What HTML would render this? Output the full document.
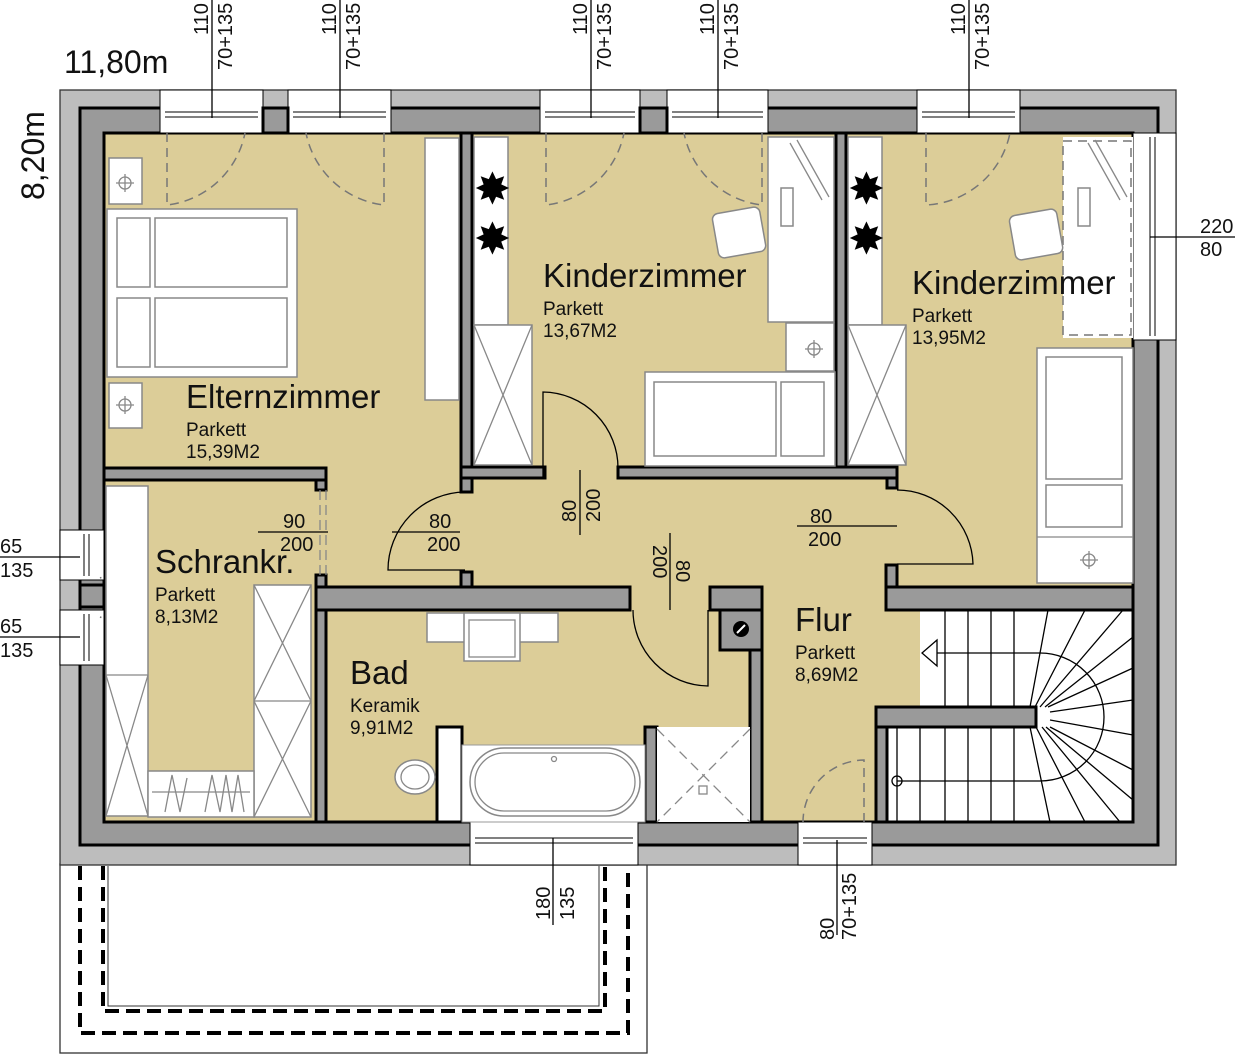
<!DOCTYPE html>
<html><head><meta charset="utf-8"><style>
html,body{margin:0;padding:0;background:#fff;}
svg{display:block;}
text{font-family:"Liberation Sans",sans-serif;fill:#111;}
.w{fill:#9a9a9a;stroke:#000;stroke-width:3;}
.f{fill:#fff;stroke:#888;stroke-width:1.5;}
.d{fill:none;stroke:#777;stroke-width:1.5;stroke-dasharray:9 6;}
.t{fill:none;stroke:#000;stroke-width:1.3;}
.g{fill:none;stroke:#888;stroke-width:1.3;}
.dim{font-size:20px;}
.h{font-size:33px;}
.s{font-size:19px;}
</style></head><body>
<svg width="1235" height="1055" viewBox="0 0 1235 1055" xmlns="http://www.w3.org/2000/svg">
<!-- balcony -->
<rect x="60" y="864" width="587" height="189" fill="#fff" stroke="#333" stroke-width="1.3"/>
<path d="M80 866 V1033 H628 V866" fill="none" stroke="#000" stroke-width="4" stroke-dasharray="14 7"/>
<path d="M103 866 V1011 H605 V866" fill="none" stroke="#000" stroke-width="4" stroke-dasharray="14 7"/>
<path d="M108 866 V1006 H599 V866" fill="none" stroke="#333" stroke-width="1"/>
<!-- band -->
<rect x="60" y="90" width="1116" height="775" fill="#bdbdbd" stroke="#333" stroke-width="1.3"/>
<!-- floor -->
<rect x="104" y="133" width="1029" height="689" fill="#dccd98"/>
<!-- stair white -->
<rect x="920" y="610" width="213" height="212" fill="#fff"/>
<rect x="887" y="727" width="40" height="95" fill="#fff"/>
<!-- outer wall ring -->
<path class="w" fill-rule="evenodd" d="M80 108 H1158 V845 H80 Z M104 133 V822 H1133 V133 Z"/>
<!-- windows -->
<g fill="#fff" stroke="#000" stroke-width="1">
<rect x="160" y="90" width="103" height="43"/><rect x="288" y="90" width="103" height="43"/>
<rect x="540" y="90" width="100" height="43"/><rect x="667" y="90" width="101" height="43"/>
<rect x="917" y="90" width="103" height="43"/>
<rect x="470" y="822" width="168" height="43"/><rect x="798" y="822" width="74" height="43"/>
<rect x="60" y="530" width="44" height="50"/><rect x="60" y="610" width="44" height="55"/>
<rect x="1133" y="133" width="43" height="207"/>
</g>
<g stroke="#000" stroke-width="1">
<path d="M165 112H258M165 117H258M293 112H386M293 117H386M545 112H635M545 117H635M672 112H763M672 117H763M922 112H1015M922 117H1015"/>
<path d="M475 843H633M475 838H633M803 838H867M803 843H867"/>
<path d="M84 534V576M89 534V576M84 614V661M89 614V661M1150 137V336M1155 137V336"/>
</g>
<rect class="w" x="263" y="108" width="25" height="25"/><rect class="w" x="640" y="108" width="27" height="25"/>
<rect class="w" x="80" y="585" width="24" height="22"/>
<!-- interior walls -->
<rect class="w" x="461" y="133" width="11" height="345"/>
<rect class="w" x="461" y="467" width="84" height="11"/>
<rect class="w" x="461" y="478" width="11" height="14"/>
<rect class="w" x="461" y="572" width="11" height="15"/>
<rect class="w" x="618" y="467" width="279" height="11"/>
<rect class="w" x="887" y="478" width="10" height="10"/>
<rect class="w" x="836" y="133" width="10" height="334"/>
<rect class="w" x="104" y="468" width="222" height="12"/>
<rect class="w" x="316" y="480" width="10" height="10"/>
<rect class="w" x="316" y="575" width="10" height="247"/>
<rect class="w" x="316" y="587" width="314" height="23"/>
<rect class="w" x="710" y="587" width="52" height="23"/>
<rect class="w" x="720" y="610" width="42" height="40"/>
<circle cx="741" cy="629" r="8" fill="#000"/><path d="M737 633L745 625" stroke="#fff" stroke-width="2"/>
<rect class="w" x="750" y="650" width="12" height="172"/>
<rect class="w" x="886" y="587" width="247" height="23"/>
<rect class="w" x="886" y="565" width="11" height="22"/>
<rect class="w" x="876" y="707" width="160" height="20"/>
<rect class="w" x="876" y="727" width="11" height="95"/>
<rect class="w" x="645" y="727" width="12" height="95"/>
<rect x="437" y="727" width="25" height="95" fill="#fff" stroke="#000" stroke-width="3"/>
<!-- door swings / openings -->
<path class="t" d="M465 492 A78 78 0 0 0 388 570 H465"/>
<path class="t" d="M543 478 V392 A76 76 0 0 1 618 468"/>
<path class="t" d="M897 490 A76 76 0 0 1 973 564 H897"/>
<path class="t" d="M708 610 V686 A76 76 0 0 1 633 610"/>
<path class="g" d="M320 490 V575 M326 490 V575" stroke-dasharray="10 5"/>
<path class="d" d="M167 133 V205 A90 90 0 0 0 245 133 M384 133 V205 A90 90 0 0 1 306 133"/>
<path class="d" d="M546 133 V205 A90 90 0 0 0 624 133 M762 133 V205 A90 90 0 0 1 684 133"/>
<path class="d" d="M926 133 V205 A90 90 0 0 0 1010 133"/>
<path class="d" d="M864 822 V760 A62 62 0 0 0 803 822"/>
<path class="d" d="M106 535 H128 A45 45 0 0 1 100 578 M106 660 H128 A45 45 0 0 0 100 617"/>
<!-- Eltern furniture -->
<rect class="f" x="109" y="158" width="33" height="46"/><rect class="f" x="109" y="383" width="33" height="45"/>
<g class="g"><circle cx="125" cy="183" r="6"/><path d="M116 183H134M125 174V192"/><circle cx="125" cy="405" r="6"/><path d="M116 405H134M125 396V414"/></g>
<rect class="f" x="107" y="209" width="190" height="168"/>
<rect class="f" x="117" y="218" width="33" height="69"/><rect class="f" x="117" y="298" width="33" height="69"/>
<rect class="f" x="155" y="218" width="132" height="69"/><rect class="f" x="155" y="298" width="132" height="69"/>
<rect class="f" x="425" y="138" width="34" height="262"/>
<!-- Schrankraum -->
<rect class="f" x="106" y="486" width="42" height="330"/>
<path class="g" d="M106 675H148M106 675L148 816M148 675L106 816"/>
<rect class="f" x="254" y="585" width="57" height="232"/>
<path class="g" d="M254 701H311M254 585L311 701M311 585L254 701M254 701L311 817M311 701L254 817"/>
<rect class="f" x="148" y="771" width="106" height="46"/>
<path class="g" d="M152 792H250M165 812L172 775L180 812L187 778M205 812L212 775L220 812L226 775L232 812L238 775L244 812"/>
<!-- Kinder1 -->
<rect class="f" x="474" y="137" width="34" height="188"/>
<rect class="f" x="474" y="325" width="58" height="140"/>
<path class="g" d="M474 325L532 465M532 325L474 465"/>
<text x="474" y="204" font-size="44" style="fill:#000">✸</text><text x="474" y="254" font-size="44" style="fill:#000">✸</text>
<rect class="f" x="768" y="137" width="66" height="185"/>
<rect class="f" x="781" y="188" width="12" height="38"/>
<path class="g" d="M790 143L822 200M797 140L829 197"/>
<rect class="f" x="715" y="210" width="48" height="45" rx="6" transform="rotate(-10 739 232)"/>
<rect class="f" x="786" y="323" width="48" height="48"/>
<g class="g"><circle cx="814" cy="349" r="6"/><path d="M805 349H823M814 340V358"/></g>
<rect class="f" x="645" y="372" width="190" height="94"/>
<rect class="f" x="654" y="382" width="122" height="74"/><rect class="f" x="781" y="382" width="43" height="74"/>
<!-- Kinder2 -->
<rect class="f" x="848" y="137" width="34" height="188"/>
<rect class="f" x="848" y="325" width="58" height="140"/>
<path class="g" d="M848 325L906 465M906 325L848 465"/>
<text x="848" y="204" font-size="44" style="fill:#000">✸</text><text x="848" y="254" font-size="44" style="fill:#000">✸</text>
<rect x="1063" y="137" width="70" height="201" fill="#fff"/>
<rect class="d" x="1063" y="141" width="68" height="194"/>
<rect class="f" x="1078" y="188" width="12" height="38"/>
<path class="g" d="M1088 143L1120 200M1095 140L1127 197"/>
<rect class="f" x="1012" y="212" width="48" height="45" rx="6" transform="rotate(-10 1036 234)"/>
<rect class="f" x="1037" y="348" width="96" height="235"/>
<rect class="f" x="1046" y="357" width="76" height="122"/><rect class="f" x="1046" y="485" width="76" height="42"/>
<path class="g" d="M1037 537H1133"/>
<g class="g"><circle cx="1089" cy="560" r="6"/><path d="M1080 560H1098M1089 551V569"/></g>
<!-- Bad -->
<rect class="f" x="427" y="613" width="131" height="29"/>
<rect class="f" x="464" y="613" width="56" height="48"/><rect class="g" x="469" y="620" width="46" height="37"/>
<ellipse cx="415" cy="777" rx="20" ry="17" class="f"/><ellipse cx="415" cy="777" rx="14" ry="12" class="g"/>
<rect x="462" y="745" width="183" height="77" fill="#fff" stroke="#999" stroke-width="1"/>
<rect class="f" x="470" y="748" width="170" height="68" rx="34"/>
<rect class="g" x="475" y="753" width="160" height="58" rx="29"/>
<circle cx="554" cy="759" r="2.5" class="g"/>
<rect x="657" y="727" width="93" height="95" fill="#fff"/>
<path class="g" d="M657 729L750 822M750 729L657 822" stroke-dasharray="10 6"/>
<rect class="g" x="699" y="786" width="8" height="8"/>
<!-- stairs -->
<g stroke="#000" stroke-width="1.3" fill="none">
<path d="M945 610V707M968 610V707M991 610V707M1014 610V707"/>
<path d="M897 727V822M920 727V822M945 727V822M968 727V822M991 727V822M1014 727V822"/>
<path d="M1030 707L1048 610M1035 707L1085 610M1040 707L1123 610M1045 707L1133 637M1048 707L1133 668M1050 712L1133 700M1050 720L1133 735M1050 727L1133 770M1046 727L1133 800M1042 727L1120 822M1036 727L1085 822M1030 727L1050 822"/>
<path d="M935 653H1040 A64 64 0 0 1 1040 781H897"/>
<circle cx="897" cy="781" r="5"/>
<path d="M937 640L922 653L937 666Z" fill="#fff"/>
</g>
<!-- labels -->
<text x="186" y="408" class="h">Elternzimmer</text>
<text x="186" y="436" class="s">Parkett</text><text x="186" y="458" class="s">15,39M2</text>
<text x="543" y="287" class="h">Kinderzimmer</text>
<text x="543" y="315" class="s">Parkett</text><text x="543" y="337" class="s">13,67M2</text>
<text x="912" y="294" class="h">Kinderzimmer</text>
<text x="912" y="322" class="s">Parkett</text><text x="912" y="344" class="s">13,95M2</text>
<text x="155" y="573" class="h">Schrankr.</text>
<text x="155" y="601" class="s">Parkett</text><text x="155" y="623" class="s">8,13M2</text>
<text x="350" y="684" class="h">Bad</text>
<text x="350" y="712" class="s">Keramik</text><text x="350" y="734" class="s">9,91M2</text>
<text x="795" y="631" class="h">Flur</text>
<text x="795" y="659" class="s">Parkett</text><text x="795" y="681" class="s">8,69M2</text>
<!-- dimensions -->
<g stroke="#000" stroke-width="1.3">
<path d="M258 532H328M392 532H460M797 526H897M580 470V535M670 533V610M1150 237H1235M0 557H80M0 637H80M553 838V925M837 840V935"/>
<path d="M212 0V118M340 0V118M591 0V118M718 0V118M969 0V118"/>
</g>
<text class="dim" x="283" y="528">90</text><text class="dim" x="280" y="551">200</text>
<text class="dim" x="429" y="528">80</text><text class="dim" x="427" y="551">200</text>
<text class="dim" x="810" y="523">80</text><text class="dim" x="808" y="546">200</text>
<text class="dim" x="1200" y="233">220</text><text class="dim" x="1200" y="256">80</text>
<text class="dim" x="0" y="553">65</text><text class="dim" x="0" y="577">135</text>
<text class="dim" x="0" y="633">65</text><text class="dim" x="0" y="657">135</text>
<g class="dim">
<text transform="translate(576 522) rotate(-90)">80</text>
<text transform="translate(600 522) rotate(-90)">200</text>
<text transform="translate(676 560) rotate(90)">80</text>
<text transform="translate(653 545) rotate(90)">200</text>
<text transform="translate(550 920) rotate(-90)">180</text>
<text transform="translate(574 920) rotate(-90)">135</text>
<text transform="translate(834 940) rotate(-90)">80</text>
<text transform="translate(856 940) rotate(-90)">70+135</text>
<text transform="translate(208 35) rotate(-90)">110</text><text transform="translate(232 70) rotate(-90)">70+135</text>
<text transform="translate(336 35) rotate(-90)">110</text><text transform="translate(360 70) rotate(-90)">70+135</text>
<text transform="translate(587 35) rotate(-90)">110</text><text transform="translate(611 70) rotate(-90)">70+135</text>
<text transform="translate(714 35) rotate(-90)">110</text><text transform="translate(738 70) rotate(-90)">70+135</text>
<text transform="translate(965 35) rotate(-90)">110</text><text transform="translate(989 70) rotate(-90)">70+135</text>
</g>
<text x="64" y="73" font-size="32">11,80m</text>
<text transform="translate(44 200) rotate(-90)" font-size="32">8,20m</text>
</svg>
</body></html>
